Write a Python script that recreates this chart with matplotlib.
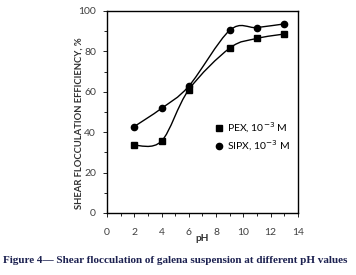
import numpy as np
import matplotlib
matplotlib.use("Agg")
import matplotlib.pyplot as plt
from matplotlib.path import Path
from matplotlib.patches import PathPatch

ph = [2, 4, 6, 9, 11, 13]
pex = [33.5, 35.6, 61, 81.6, 86.4, 88.6]
sipx = [42.8, 51.8, 62.8, 90.4, 91.8, 93.6]


def smooth_path(x, y, t=0.5):
    # excel-like smoothed line: catmull-rom as cubic bezier segments
    x = np.asarray(x, float)
    y = np.asarray(y, float)
    n = len(x)
    verts = [(x[0], y[0])]
    codes = [Path.MOVETO]
    for i in range(n - 1):
        p0 = i - 1 if i > 0 else i
        p3 = i + 2 if i + 2 < n else i + 1
        c1 = (x[i] + (x[i + 1] - x[p0]) * t / 3, y[i] + (y[i + 1] - y[p0]) * t / 3)
        c2 = (x[i + 1] - (x[p3] - x[i]) * t / 3, y[i + 1] - (y[p3] - y[i]) * t / 3)
        verts += [c1, c2, (x[i + 1], y[i + 1])]
        codes += [Path.CURVE4] * 3
    return Path(verts, codes)


plt.rcParams['font.family'] = ['Lato', 'DejaVu Sans']

fig = plt.figure(figsize=(3.56, 2.75), dpi=100)
ax = fig.add_axes([0.3006, 0.2255, 0.5359, 0.7345])

for yy in (pex, sipx):
    ax.add_patch(PathPatch(smooth_path(ph, yy, 0.5), fill=False, lw=1.0, color='black'))

ax.plot(ph, pex, 's', color='black', ms=4.5, label='PEX, 10$^{-3}$ M')
ax.plot(ph, sipx, 'o', color='black', ms=4.5, label='SIPX, 10$^{-3}$ M')

ax.set_xlim(0, 14)
ax.set_ylim(0, 100)
ax.set_xticks(range(0, 15, 2))
ax.set_xticks(range(0, 15), minor=True)
ax.set_yticks(range(0, 101, 20))
ax.set_yticks(range(0, 101, 10), minor=True)
ax.tick_params(labelsize=7.5, labelcolor='#404040', length=3, width=0.6, pad=5)
ax.tick_params(which='minor', length=2, width=0.6)
ax.tick_params(axis='x', pad=8)
for s in ax.spines.values():
    s.set_linewidth(1.0)

ax.text(7.0, -12.5, 'pH', fontsize=7.2, fontweight='bold', ha='center', va='center', color='#303030')
ax.set_ylabel('SHEAR FLOCCULATION EFFICIENCY, %', fontsize=6.8, fontweight='bold',
              color='#303030')
ax.yaxis.set_label_coords(-0.125, 0.445)

ax.legend(loc='lower right', frameon=False, fontsize=7.5, handlelength=0.6,
          handletextpad=0.5, borderaxespad=0.3, labelspacing=0.4,
          bbox_to_anchor=(1.0, 0.26))

fig.text(0.008, 0.045, 'Figure 4\u2014 Shear flocculation of galena suspension at different pH values',
         fontsize=8.0, fontweight='bold', family='Liberation Serif', color='#1c2150')

fig.savefig('out.png', dpi=100)
